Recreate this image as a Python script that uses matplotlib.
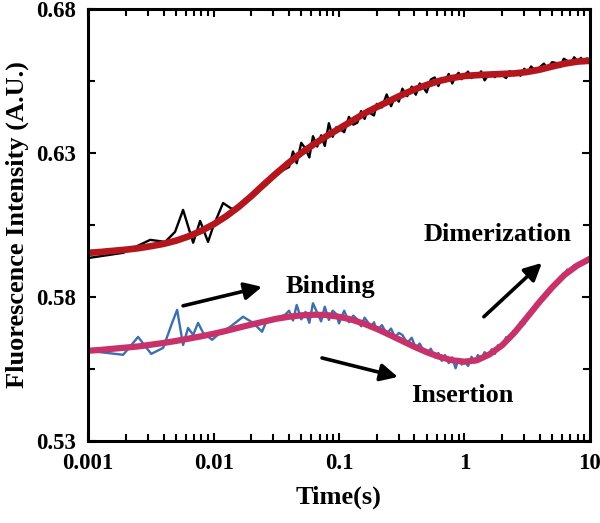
import numpy as np
import matplotlib
matplotlib.use("Agg")
import matplotlib.pyplot as plt
from matplotlib.ticker import FixedLocator, LogLocator, NullFormatter

# ---- data ----
# early (sparse) samples, black trace
black_t_early = [0.00100, 0.00190, 0.00312, 0.00411, 0.00493, 0.00571, 0.00687,
                 0.00781, 0.00903, 0.00990, 0.01190, 0.01404, 0.0178, 0.0214,
                 0.0257, 0.0309, 0.0358]
black_v_early = [0.5935, 0.5953, 0.5998, 0.5991, 0.6026, 0.6102, 0.5988,
                 0.6064, 0.5991, 0.6043, 0.6126, 0.6105, 0.6125, 0.6160,
                 0.6185, 0.6218, 0.6240]

# early (sparse) samples, blue trace
blue_t_early = [0.00100, 0.00190, 0.00250, 0.00318, 0.00396, 0.00467, 0.00512,
                0.00571, 0.00626, 0.00687, 0.00752, 0.00825, 0.00973, 0.01127,
                0.01354, 0.01718, 0.02064, 0.02435, 0.02669, 0.03206, 0.03713]
blue_v_early = [0.5613, 0.5599, 0.5661, 0.5602, 0.5623, 0.5710, 0.5755,
                0.5633, 0.5692, 0.5668, 0.5710, 0.5675, 0.5651, 0.5675,
                0.5696, 0.5731, 0.5710, 0.5679, 0.5721, 0.5727, 0.5738]

# dense samples (shared time base)
dense_t = [0.040, 0.043, 0.046, 0.050, 0.054, 0.058, 0.062, 0.067, 0.072, 0.077,
           0.083, 0.089, 0.095, 0.10, 0.11, 0.12, 0.13, 0.14, 0.15, 0.16,
           0.17, 0.18, 0.19, 0.20, 0.22, 0.24, 0.26, 0.28, 0.30, 0.32,
           0.35, 0.38, 0.41, 0.44, 0.47, 0.50, 0.54, 0.58, 0.62, 0.66,
           0.70, 0.75, 0.80, 0.85, 0.90, 0.95, 1.0, 1.07, 1.14, 1.21,
           1.28, 1.36, 1.45, 1.55, 1.65, 1.75, 1.85, 2.0, 2.15, 2.3,
           2.45, 2.6, 2.8, 3.0, 3.2, 3.4, 3.7, 4.0, 4.3, 4.6,
           5.0, 5.4, 5.8, 6.2, 6.6, 7.0, 7.5, 8.0, 8.5, 9.0,
           9.5, 10.0]
black_v_dense = [0.6251, 0.6305, 0.6264, 0.6335, 0.6315, 0.6284, 0.6358, 0.6322, 0.6361, 0.6324,
                 0.6403, 0.6356, 0.6389, 0.6385, 0.6372, 0.6425, 0.6398, 0.6405, 0.6445, 0.6418,
                 0.6452, 0.6436, 0.6430, 0.6470, 0.6458, 0.6503, 0.6462, 0.6495, 0.6478, 0.6523,
                 0.6497, 0.6530, 0.6502, 0.6541, 0.6528, 0.6510, 0.6555, 0.6562, 0.6532, 0.6560,
                 0.6548, 0.6574, 0.6541, 0.6566, 0.6578, 0.6556, 0.6570, 0.6582, 0.6560, 0.6574,
                 0.6566, 0.6583, 0.6552, 0.6570, 0.6578, 0.6563, 0.6580, 0.6570, 0.6560, 0.6584,
                 0.6572, 0.6580, 0.6568, 0.6592, 0.6578, 0.6600, 0.6584, 0.6598, 0.6610, 0.6592,
                 0.6615, 0.6612, 0.6598, 0.6627, 0.6620, 0.6606, 0.6632, 0.6618, 0.6630, 0.6612,
                 0.6628, 0.6610]
blue_v_dense = [0.5752, 0.5718, 0.5772, 0.5722, 0.5748, 0.5710, 0.5778, 0.5745, 0.5715, 0.5766,
                0.5720, 0.5752, 0.5741, 0.5708, 0.5752, 0.5712, 0.5735, 0.5722, 0.5698, 0.5728,
                0.5712, 0.5690, 0.5712, 0.5682, 0.5702, 0.5672, 0.5690, 0.5660, 0.5675, 0.5668,
                0.5640, 0.5658, 0.5622, 0.5638, 0.5615, 0.5602, 0.5620, 0.5590, 0.5605, 0.5578,
                0.5598, 0.5570, 0.5590, 0.5552, 0.5585, 0.5565, 0.5578, 0.5560, 0.5592, 0.5572,
                0.5598, 0.5585, 0.5608, 0.5592, 0.5618, 0.5602, 0.5632, 0.5628, 0.5660, 0.5650,
                0.5682, 0.5676, 0.5712, 0.5705, 0.5742, 0.5740, 0.5776, 0.5778, 0.5808, 0.5806,
                0.5840, 0.5842, 0.5870, 0.5868, 0.5895, 0.5888, 0.5910, 0.5905, 0.5922, 0.5915,
                0.5935, 0.5926]

# fitted curves, read every 0.1 decade
fit_t = [0.001, 0.00126, 0.00158, 0.002, 0.00251, 0.00316, 0.00398, 0.00501, 0.00631, 0.00794,
         0.01, 0.0126, 0.0158, 0.02, 0.0251, 0.0316, 0.0398, 0.0501, 0.0631, 0.0794,
         0.1, 0.126, 0.158, 0.2, 0.251, 0.316, 0.398, 0.501, 0.631, 0.794,
         1.0, 1.26, 1.58, 2.0, 2.51, 3.16, 3.98, 5.01, 6.31, 7.94, 10.0]
red_fit = [0.5953, 0.5956, 0.5960, 0.5964, 0.5969, 0.5976, 0.5984, 0.5995, 0.6010, 0.6029,
           0.6052, 0.6080, 0.6112, 0.6150, 0.6190, 0.6229, 0.6266, 0.6300, 0.6330, 0.6358,
           0.6384, 0.6410, 0.6436, 0.6459, 0.6480, 0.6501, 0.6520, 0.6536, 0.6550, 0.6560,
           0.6567, 0.6570, 0.6572, 0.6574, 0.6576, 0.6581, 0.6589, 0.6600, 0.6610, 0.6617,
           0.6620]
magenta_fit = [0.5613, 0.5616, 0.5620, 0.5624, 0.5628, 0.5634, 0.5640, 0.5647, 0.5655, 0.5663,
               0.5672, 0.5682, 0.5693, 0.5704, 0.5714, 0.5724, 0.5731, 0.5736, 0.5738, 0.5737,
               0.5731, 0.5721, 0.5707, 0.5689, 0.5669, 0.5648, 0.5627, 0.5608, 0.5592, 0.5580,
               0.5575, 0.5580, 0.5600, 0.5632, 0.5676, 0.5729, 0.5783, 0.5833, 0.5877, 0.5909,
               0.5932]

plt.rcParams["font.family"] = ["Liberation Serif", "DejaVu Serif"]
plt.rcParams["font.weight"] = "bold"

fig = plt.figure(figsize=(6.0, 5.23), dpi=100)
ax = fig.add_axes([0.147, 0.157, 0.836, 0.826])

ax.plot(black_t_early + dense_t, black_v_early + black_v_dense, color="black", lw=1.7)
ax.plot(blue_t_early + dense_t, blue_v_early + blue_v_dense, color="#3a6fb0", lw=1.7)
ax.plot(fit_t, red_fit, color="#b3171d", lw=4.8, solid_joinstyle="round")
ax.plot(fit_t, magenta_fit, color="#c8326a", lw=4.5, solid_joinstyle="round")

ax.set_xscale("log")
ax.set_xlim(0.001, 10)
ax.set_ylim(0.53, 0.68)

ax.set_xticks([0.001, 0.01, 0.1, 1, 10])
ax.set_xticklabels(["0.001", "0.01", "0.1", "1", "10"])
ax.xaxis.set_minor_locator(LogLocator(base=10, subs=np.arange(2, 10)))
ax.xaxis.set_minor_formatter(NullFormatter())
ax.set_yticks([0.53, 0.58, 0.63, 0.68])
ax.set_yticklabels(["0.53", "0.58", "0.63", "0.68"])
ax.yaxis.set_minor_locator(FixedLocator([0.555, 0.605, 0.655]))

ax.tick_params(which="both", direction="in", top=True, right=True, width=1.5,
               labelsize=16.5, pad=9)
ax.tick_params(which="major", length=6)
ax.tick_params(which="minor", length=5)
for lab in ax.get_xticklabels() + ax.get_yticklabels():
    lab.set_fontweight("bold")
for s in ax.spines.values():
    s.set_linewidth(2.2)

ax.set_xlabel("Time(s)", fontsize=19, fontweight="bold", labelpad=8)
ax.set_ylabel("Fluorescence Intensity (A.U.)", fontsize=19, fontweight="bold", labelpad=5)

arrow = dict(arrowstyle="-|>", color="black", lw=2.6, mutation_scale=26, shrinkA=0, shrinkB=0)
ax.annotate("", xy=(0.0243, 0.5835), xytext=(0.00571, 0.5769), arrowprops=arrow)
ax.annotate("", xy=(0.295, 0.5522), xytext=(0.0732, 0.5588), arrowprops=arrow)
ax.annotate("", xy=(4.15, 0.5918), xytext=(1.43, 0.5731), arrowprops=arrow)
ax.text(0.0848, 0.5835, "Binding", fontsize=19, fontweight="bold", ha="center", va="center")
ax.text(0.955, 0.5456, "Insertion", fontsize=19, fontweight="bold", ha="center", va="center")
ax.text(1.85, 0.6015, "Dimerization", fontsize=19, fontweight="bold", ha="center", va="center")

fig.savefig("out.png", dpi=100)
